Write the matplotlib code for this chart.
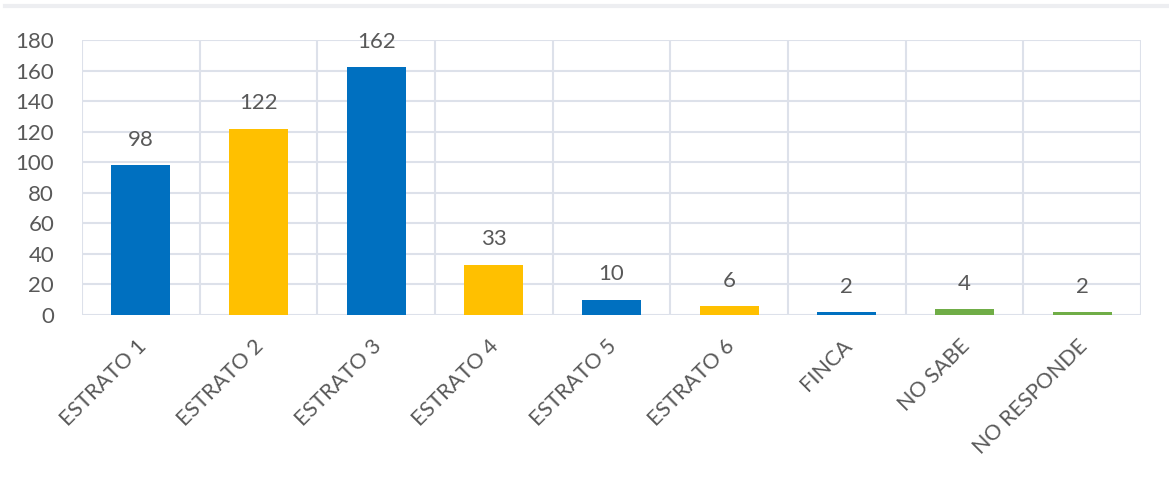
import matplotlib.pyplot as plt
import matplotlib.transforms as mtransforms
from matplotlib.lines import Line2D

categories = ["ESTRATO 1", "ESTRATO 2", "ESTRATO 3", "ESTRATO 4", "ESTRATO 5",
              "ESTRATO 6", "FINCA", "NO SABE", "NO RESPONDE"]
values = [98, 122, 162, 33, 10, 6, 2, 4, 2]
bar_colors = ["#0070C0", "#FFC000", "#0070C0", "#FFC000", "#0070C0",
              "#FFC000", "#0070C0", "#70AD47", "#70AD47"]
y_ticks = [0, 20, 40, 60, 80, 100, 120, 140, 160, 180]

plt.rcParams['font.family'] = ['Lato', 'DejaVu Sans']
text_color = '#595959'
grid_color = '#DDE1EA'

fig = plt.figure(figsize=(11.69, 4.83), dpi=100)
ax = fig.add_axes([82 / 1169, 1 - 315 / 483, (1141 - 82) / 1169, (315 - 40) / 483])

x = list(range(len(categories)))
ax.bar(x, values, width=0.5, color=bar_colors, zorder=3)

for xi, v in zip(x, values):
    ax.annotate(str(v), (xi, v), xytext=(0, 11), textcoords='offset points',
                ha='center', va='bottom', fontsize=16, color=text_color)

ax.set_xlim(-0.5, len(categories) - 0.5)
ax.set_ylim(0, 180)
ax.set_yticks(y_ticks)
ax.set_yticklabels([str(t) for t in y_ticks], fontsize=16, color=text_color)
ax.set_xticks(x)
ax.set_xticklabels(categories, rotation=45, ha='right', rotation_mode='anchor',
                   fontsize=15.5, color=text_color)
ax.tick_params(axis='both', length=0)
ax.tick_params(axis='x', pad=15)
ax.tick_params(axis='y', pad=20)

# nudge the rotated labels a little to the left
shift = mtransforms.ScaledTranslation(-5 / 100, 0, fig.dpi_scale_trans)
for lbl in ax.get_xticklabels():
    lbl.set_transform(lbl.get_transform() + shift)

ax.yaxis.grid(True, color=grid_color, lw=1.5, zorder=0)
for b in range(len(categories) + 1):
    ax.axvline(b - 0.5, color=grid_color, lw=1.5, zorder=0)
for s in ax.spines.values():
    s.set_visible(False)

fig.add_artist(Line2D([5 / 1169, 1], [1 - 6 / 483, 1 - 6 / 483],
                      transform=fig.transFigure, color='#EDEEF1', lw=3))

fig.savefig('out.png', dpi=100)
